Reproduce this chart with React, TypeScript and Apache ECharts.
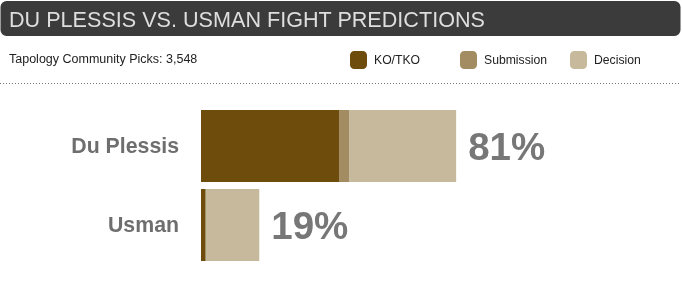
import React, { useEffect, useRef } from "react";
import * as echarts from "echarts";

const fighters = ["Du Plessis", "Usman"];
const koTko = [44, 1.5];
const submission = [3, 0];
const decision = [34, 17];
const totalLabels = ["81%", "19%"];
const legendNames = ["KO/TKO", "Submission", "Decision"];
const colors = ["#6e4c0c", "#a38c62", "#c7b99c"];
const titleText = "DU PLESSIS VS. USMAN FIGHT PREDICTIONS";
const subtitleText = "Tapology Community Picks: 3,548";

const FONT = "'Liberation Sans', Arial, sans-serif";

export default function App() {
  const ref = useRef<HTMLDivElement>(null);
  useEffect(() => {
    if (!ref.current) return;
    const chart = echarts.init(ref.current, null, { renderer: "svg" });
    const legendLefts = [350, 460, 570];
    const option: any = {
      animation: false,
      textStyle: { fontFamily: FONT },
      grid: { left: 201, right: 166, top: 106.5, height: 158, containLabel: false },
      xAxis: { type: "value", min: 0, max: 100, show: false },
      yAxis: {
        type: "category",
        data: fighters,
        inverse: true,
        axisLine: { show: false },
        axisTick: { show: false },
        splitLine: { show: false },
        axisLabel: {
          margin: 22,
          fontFamily: FONT,
          fontWeight: "bold",
          fontSize: 21.3,
          color: "#6e6e6e",
        },
      },
      legend: legendNames.map((n, i) => ({
        data: [{ name: n, icon: "roundRect" }],
        left: legendLefts[i],
        top: 51,
        itemWidth: 17,
        itemHeight: 18,
        itemGap: 0,
        padding: 0,
        itemStyle: { borderWidth: 0 },
        textStyle: { fontFamily: FONT, fontSize: 12.2, color: "#222", padding: [0, 0, 0, 2] },
        selectedMode: false,
      })),
      graphic: [
        {
          type: "rect",
          shape: { x: 0.5, y: 1, width: 680, height: 35, r: 6 },
          style: { fill: "#3b3b3b" },
        },
        {
          type: "text",
          x: 9,
          y: 19,
          style: {
            text: titleText,
            fill: "#dedede",
            font: `21.6px ${FONT}`,
            verticalAlign: "middle",
          },
        },
        {
          type: "text",
          x: 9,
          y: 59,
          style: {
            text: subtitleText,
            fill: "#222",
            font: `12.5px ${FONT}`,
            verticalAlign: "middle",
          },
        },
        {
          type: "line",
          shape: { x1: 0, y1: 83.5, x2: 681, y2: 83.5 },
          style: { stroke: "#777", lineWidth: 1, lineDash: [1, 2] },
        },
      ],
      series: [
        {
          name: legendNames[0],
          type: "bar",
          stack: "t",
          barWidth: 72,
          data: koTko,
          itemStyle: { color: colors[0] },
        },
        {
          name: legendNames[1],
          type: "bar",
          stack: "t",
          barWidth: 72,
          data: submission,
          itemStyle: { color: colors[1] },
        },
        {
          name: legendNames[2],
          type: "bar",
          stack: "t",
          barWidth: 72,
          data: decision,
          itemStyle: { color: colors[2] },
          label: {
            show: true,
            position: "right",
            distance: 12,
            formatter: (p: any) => totalLabels[p.dataIndex],
            fontFamily: FONT,
            fontWeight: "bold",
            fontSize: 38.5,
            color: "#777",
          },
        },
      ],
    };
    chart.setOption(option);
    return () => chart.dispose();
  }, []);
  return (
    <div
      ref={ref}
      style={{ position: "fixed", left: 0, top: 0, width: 682, height: 284 }}
    />
  );
}
